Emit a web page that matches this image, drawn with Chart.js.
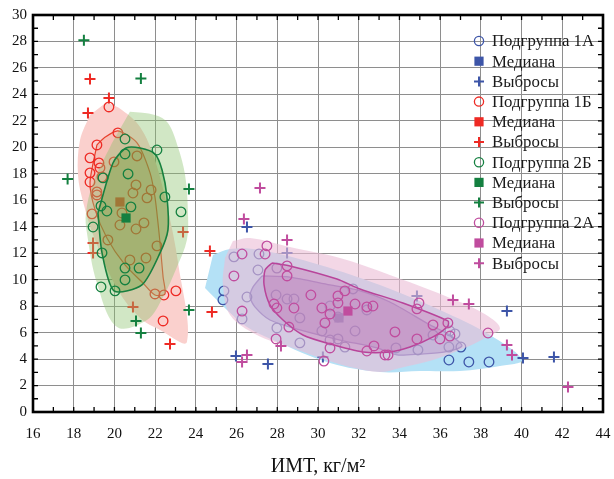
<!DOCTYPE html>
<html>
<head>
<meta charset="utf-8">
<script src="https://cdn.jsdelivr.net/npm/chart.js@4.4.1/dist/chart.umd.min.js"></script>
<style>
  body { margin: 0; background: #fff; }
  canvas { display: block; }
</style>
</head>
<body>
<canvas id="chart" width="614" height="479"></canvas>
<script>
// Оси
const xTicks = [16, 18, 20, 22, 24, 26, 28, 30, 32, 34, 36, 38, 40, 42, 44];
const yTicks = [0, 2, 4, 6, 8, 10, 12, 14, 16, 18, 20, 22, 24, 26, 28, 30];
const xTitle = 'ИМТ, кг/м²';

// Подгруппа 1А (синие)
const points1A = [[25.38,9.15],[25.33,8.47],[26.27,7.03],[36.43,3.93],[37.41,3.78],[38.4,3.78],
  [25.87,11.72],[27.1,11.94],[27.05,10.73],[26.51,8.69],[27.98,10.88],[27.94,8.84],[28.48,8.54],
  [28.82,8.54],[29.11,7.11],[27.98,6.35],[29.11,5.22],[30.59,8.01],[30.59,5.44],[30.98,7.18],
  [31.82,6.12],[31.72,9.3],[31.32,4.91],[30.19,6.12],[32.4,7.71],[33.83,4.84],[34.91,4.69],
  [35.65,5.82],[36.48,6.12],[36.73,5.9],[36.43,4.91],[37.02,4.91],[30.98,5.52]];
const median1A = [[31.03,7.11]];
const outliers1A = [[26.51,13.98],[25.97,4.23],[27.54,3.63],[28.48,12.02],[30.24,4.16],
  [34.86,8.77],[39.28,7.63],[40.07,4.08],[41.59,4.16]];
const bag1A = [[27.25,10.28],[28.62,10.2],[30.59,9.6],[31.91,9.22],[33.53,8.31],[35.5,6.58],
  [36.48,5.82],[37.07,4.99],[36.24,4.54],[35.01,4.38],[33.88,4.31],[32.9,4.84],[31.08,5.44],
  [29.11,6.2],[27.64,6.95],[26.9,7.94],[26.66,8.69],[26.81,9.45]];
const fence1A = [[24.84,11.87],[25.68,12.32],[27.15,12.24],[30.1,11.11],[33.04,9.6],[35.99,7.71],
  [38.45,5.82],[40.02,3.93],[38.94,3.48],[36.97,3.1],[35.01,3.1],[33.04,3.02],[30.59,3.7],
  [27.79,5.44],[26.51,6.42],[25.53,7.71],[24.45,9.37]];

// Подгруппа 1Б (красные)
const points1B = [[19.73,23.05],[19.14,20.18],[18.8,19.2],[18.8,18.07],[18.8,17.38],[20.17,21.09],
  [19.24,18.82],[19.29,18.44],[21.11,19.35],[19.98,18.9],[19.39,17.76],[19.14,16.63],[19.14,16.4],
  [18.9,14.97],[21.8,16.78],[20.91,16.55],[21.6,16.18],[21.06,17.16],[21.45,14.29],[20.27,14.13],
  [20.37,15.04],[21.06,13.83],[19.68,13.0],[22.09,12.55],[21.55,11.64],[20.76,11.49],[21.99,8.92],
  [22.43,8.84],[23.02,9.15],[22.39,6.88]];
const median1B = [[20.27,15.87]];
const outliers1B = [[18.8,25.17],[19.73,23.73],[18.7,22.6],[23.37,13.61],[18.95,12.77],[18.95,12.02],
  [20.91,7.94],[24.69,12.17],[24.79,7.56],[22.73,5.14]];
const bag1B = [[19.14,20.18],[19.49,20.71],[20.17,21.24],[21.11,20.33],[21.75,18.07],[21.99,16.25],
  [22.14,14.29],[22.24,12.77],[22.39,10.2],[22.48,8.92],[21.99,8.84],[21.4,9.75],[20.52,11.11],
  [19.63,13.15],[19.05,15.27],[18.8,17.31]];
const fence1B = [[19.63,23.43],[20.37,22.83],[21.26,21.54],[21.99,19.05],[22.63,15.27],[23.12,11.34],
  [23.56,5.29],[22.24,6.2],[21.26,7.1],[20.17,9.22],[19.05,13.0],[18.5,15.65],[18.21,17.91],
  [18.31,20.56],[18.8,22.45]];

// Подгруппа 2Б (зелёные)
const points2B = [[20.52,20.63],[22.09,19.8],[20.52,19.5],[20.67,17.99],[19.44,17.69],[22.48,16.25],
  [20.81,15.5],[19.34,15.57],[19.63,15.19],[23.27,15.12],[18.95,13.98],[19.39,12.02],[20.52,10.88],
  [21.21,10.88],[20.52,9.98],[19.34,9.45],[20.03,9.15]];
const median2B = [[20.57,14.66]];
const outliers2B = [[18.5,28.1],[21.3,25.2],[17.7,17.6],[23.66,16.86],[23.66,7.7],[21.06,6.88],[21.3,5.97]];
const bag2B = [[19.19,15.04],[19.39,12.02],[19.98,9.15],[21.35,9.6],[22.24,12.02],[22.63,13.76],
  [22.58,16.25],[22.34,18.29],[21.99,19.5],[21.26,19.95],[20.57,19.95],[19.93,18.82]];
const fence2B = [[20.76,22.68],[21.99,22.45],[22.63,21.84],[23.12,20.03],[23.47,17.91],[23.61,15.12],
  [23.56,13.0],[23.07,10.96],[22.39,8.69],[21.6,6.95],[20.13,6.42],[19.14,9.75],[18.65,13.53],
  [18.6,15.04],[18.95,17.31],[19.88,20.33]];

// Подгруппа 2А (пурпурные)
const points2A = [[26.27,11.94],[27.49,12.55],[27.4,11.94],[25.87,10.28],[28.48,11.04],[28.48,10.28],
  [29.65,8.84],[27.84,8.16],[27.98,7.86],[28.82,7.86],[26.27,7.63],[28.57,6.42],[27.94,5.52],
  [30.19,7.86],[30.59,7.41],[30.34,6.73],[30.98,8.77],[31.32,9.15],[30.98,8.24],[31.82,8.16],
  [32.4,7.94],[32.7,8.01],[33.78,6.05],[34.86,5.52],[32.75,4.99],[32.4,4.61],[33.29,4.31],
  [33.44,4.31],[30.29,3.85],[34.86,7.79],[34.96,8.24],[35.65,6.58],[35.99,5.52],[36.38,6.73],
  [36.48,5.74],[38.35,5.97],[30.59,4.84]];
const median2A = [[31.47,7.63]];
const outliers2A = [[28.48,13.0],[27.15,16.93],[26.36,14.59],[26.51,4.31],[26.27,3.78],[28.18,4.99],
  [36.63,8.47],[37.41,8.16],[39.28,5.06],[39.53,4.31],[42.28,1.89]];
const bag2A = [[27.74,11.26],[28.62,11.04],[30.93,10.05],[32.06,9.3],[34.17,8.24],[36.38,6.88],
  [36.38,6.5],[35.65,5.67],[34.52,4.91],[33.53,4.54],[32.21,4.54],[30.59,5.14],[29.26,5.82],
  [28.28,6.95],[27.64,8.09],[27.35,9.6],[27.4,10.73]];
const fence2A = [[25.82,12.93],[26.66,13.15],[28.62,12.47],[31.08,11.64],[33.53,10.36],[36.14,8.84],
  [38.1,7.48],[38.94,6.35],[38.3,5.67],[37.32,4.91],[35.65,3.93],[34.03,3.33],[33.04,3.02],
  [31.57,3.4],[30.1,4.08],[28.62,4.91],[27.0,5.82],[25.68,7.33],[25.33,9.6],[25.43,11.64]];

const legendRows = [
  ['Подгруппа 1А', '#3d55a8', 'circle'], ['Медиана', '#3d55a8', 'rect'], ['Выбросы', '#3d55a8', 'cross'],
  ['Подгруппа 1Б', '#ee2a24', 'circle'], ['Медиана', '#ee2a24', 'rect'], ['Выбросы', '#ee2a24', 'cross'],
  ['Подгруппа 2Б', '#148040', 'circle'], ['Медиана', '#148040', 'rect'], ['Выбросы', '#148040', 'cross'],
  ['Подгруппа 2А', '#c04c9e', 'circle'], ['Медиана', '#c04c9e', 'rect'], ['Выбросы', '#c04c9e', 'cross']
];

const serif = '"Liberation Serif", "Times New Roman", serif';

function xy(list) {
  return list.map(p => ({ x: p[0], y: p[1] }));
}

// Контур (огибающая) как замкнутая линия
function shape(list, fillColor, order, tension) {
  return {
    data: xy(list), showLine: true, fill: 'shape', backgroundColor: fillColor,
    borderWidth: 0, pointRadius: 0, tension: tension, order: order
  };
}
function outline(list, fillColor, lineColor, width, order) {
  const closed = list.concat([list[0]]);
  return {
    data: xy(closed), showLine: true, fill: 'shape', backgroundColor: fillColor,
    borderColor: lineColor, borderWidth: width, pointRadius: 0, tension: 0.25, order: order
  };
}
function circles(list, color, order) {
  return { data: xy(list), pointStyle: 'circle', pointRadius: 4.8, borderColor: color,
    backgroundColor: 'rgba(0,0,0,0)', pointBorderWidth: 1.3, order: order };
}
function squares(list, color, order) {
  return { data: xy(list), pointStyle: 'rect', pointRadius: 6.5, borderColor: color,
    backgroundColor: color, pointBorderWidth: 0, order: order };
}
function crosses(list, color, order) {
  return { data: xy(list), pointStyle: 'cross', pointRadius: 5.5, borderColor: color,
    backgroundColor: color, pointBorderWidth: 2, order: order };
}

// порядок: больше order — рисуется раньше (ниже)
const datasets = [
  shape(fence1A, '#b4e1f6', 40, 0.35),
  outline(bag1A, 'rgba(110,120,200,0.5)', '#5560b8', 1.3, 39),
  circles(points1A, '#3d55a8', 38), squares(median1A, '#3d55a8', 38), crosses(outliers1A, '#3d55a8', 38),
  shape(fence2A, 'rgba(235,188,213,0.6)', 37, 0.35),
  outline(bag2A, 'rgba(200,100,170,0.3)', '#b8449a', 1.5, 36),
  circles(points2A, '#c04c9e', 35), squares(median2A, '#c04c9e', 35), crosses(outliers2A, '#c04c9e', 35),

  shape(fence1B, '#fad0cd', 30, 0.35),
  outline(bag1B, 'rgba(240,140,120,0.25)', '#e8402c', 1.2, 29),
  circles(points1B, '#ee2a24', 28), squares(median1B, '#ee2a24', 28), crosses(outliers1B, '#ee2a24', 28),
  shape(fence2B, 'rgba(140,195,110,0.4)', 27, 0.35),
  outline(bag2B, 'rgba(80,150,30,0.32)', '#17803f', 1.6, 26),
  circles(points2B, '#148040', 25), squares(median2B, '#148040', 25), crosses(outliers2B, '#148040', 25)
];

// Рамка с внутренними засечками
const framePlugin = {
  id: 'frame',
  afterDatasetsDraw(chart) {
    const { ctx, chartArea: a, scales } = chart;
    ctx.save();
    ctx.strokeStyle = '#000';
    ctx.lineWidth = 1.3;
    ctx.beginPath();
    for (let v = xTicks[0]; v <= xTicks[xTicks.length - 1]; v++) {
      const px = scales.x.getPixelForValue(v);
      ctx.moveTo(px, a.bottom); ctx.lineTo(px, a.bottom - 5);
      ctx.moveTo(px, a.top); ctx.lineTo(px, a.top + 5);
    }
    for (let v = yTicks[0]; v <= yTicks[yTicks.length - 1]; v++) {
      const py = scales.y.getPixelForValue(v);
      ctx.moveTo(a.left, py); ctx.lineTo(a.left + 5, py);
      ctx.moveTo(a.right, py); ctx.lineTo(a.right - 5, py);
    }
    ctx.stroke();
    ctx.lineWidth = 2.6;
    ctx.strokeRect(a.left, a.top, a.right - a.left, a.bottom - a.top);
    ctx.restore();
  }
};

// Легенда внутри области графика
const legendPlugin = {
  id: 'insideLegend',
  afterDraw(chart) {
    const { ctx, chartArea: a } = chart;
    const mx = a.right - 124;
    ctx.save();
    ctx.font = '16.8px ' + serif;
    ctx.textBaseline = 'middle';
    legendRows.forEach((row, i) => {
      const y = a.top + 26 + i * 20.2;
      const [text, color, kind] = row;
      ctx.strokeStyle = color;
      ctx.fillStyle = color;
      if (kind === 'circle') {
        ctx.lineWidth = 1.3;
        ctx.beginPath(); ctx.arc(mx, y, 4.6, 0, Math.PI * 2); ctx.stroke();
      } else if (kind === 'rect') {
        ctx.fillRect(mx - 4.6, y - 4.6, 9.2, 9.2);
      } else {
        ctx.lineWidth = 2;
        ctx.beginPath();
        ctx.moveTo(mx - 5, y); ctx.lineTo(mx + 5, y);
        ctx.moveTo(mx, y - 5); ctx.lineTo(mx, y + 5);
        ctx.stroke();
      }
      ctx.fillStyle = '#1a1a1a';
      ctx.fillText(text, mx + 13, y + 1);
    });
    ctx.restore();
  }
};

new Chart(document.getElementById('chart'), {
  type: 'scatter',
  data: { datasets: datasets },
  options: {
    responsive: false,
    animation: false,
    layout: { padding: { top: 15, right: 11, left: 0, bottom: 0 } },
    plugins: { legend: { display: false }, tooltip: { enabled: false } },
    scales: {
      x: {
        type: 'linear', min: xTicks[0], max: xTicks[xTicks.length - 1],
        afterBuildTicks: s => { s.ticks = xTicks.map(v => ({ value: v })); },
        ticks: { padding: 0, color: '#111', font: { family: serif, size: 15 } },
        grid: { color: '#8e8e8e', lineWidth: 1, drawTicks: true, tickLength: 13, tickColor: 'rgba(0,0,0,0)' },
        border: { display: false },
        title: { display: true, text: xTitle, color: '#111', font: { family: serif, size: 20 }, padding: { top: 6, bottom: 0 } },
        afterFit: s => { s.height = 67; }
      },
      y: {
        type: 'linear', min: yTicks[0], max: yTicks[yTicks.length - 1],
        afterBuildTicks: s => { s.ticks = yTicks.map(v => ({ value: v })); },
        ticks: { padding: 6, color: '#111', font: { family: serif, size: 15 } },
        grid: { color: '#8e8e8e', lineWidth: 1, drawTicks: false },
        border: { display: false },
        afterFit: s => { s.width = 33; }
      }
    }
  },
  plugins: [framePlugin, legendPlugin]
});
</script>
</body>
</html>
